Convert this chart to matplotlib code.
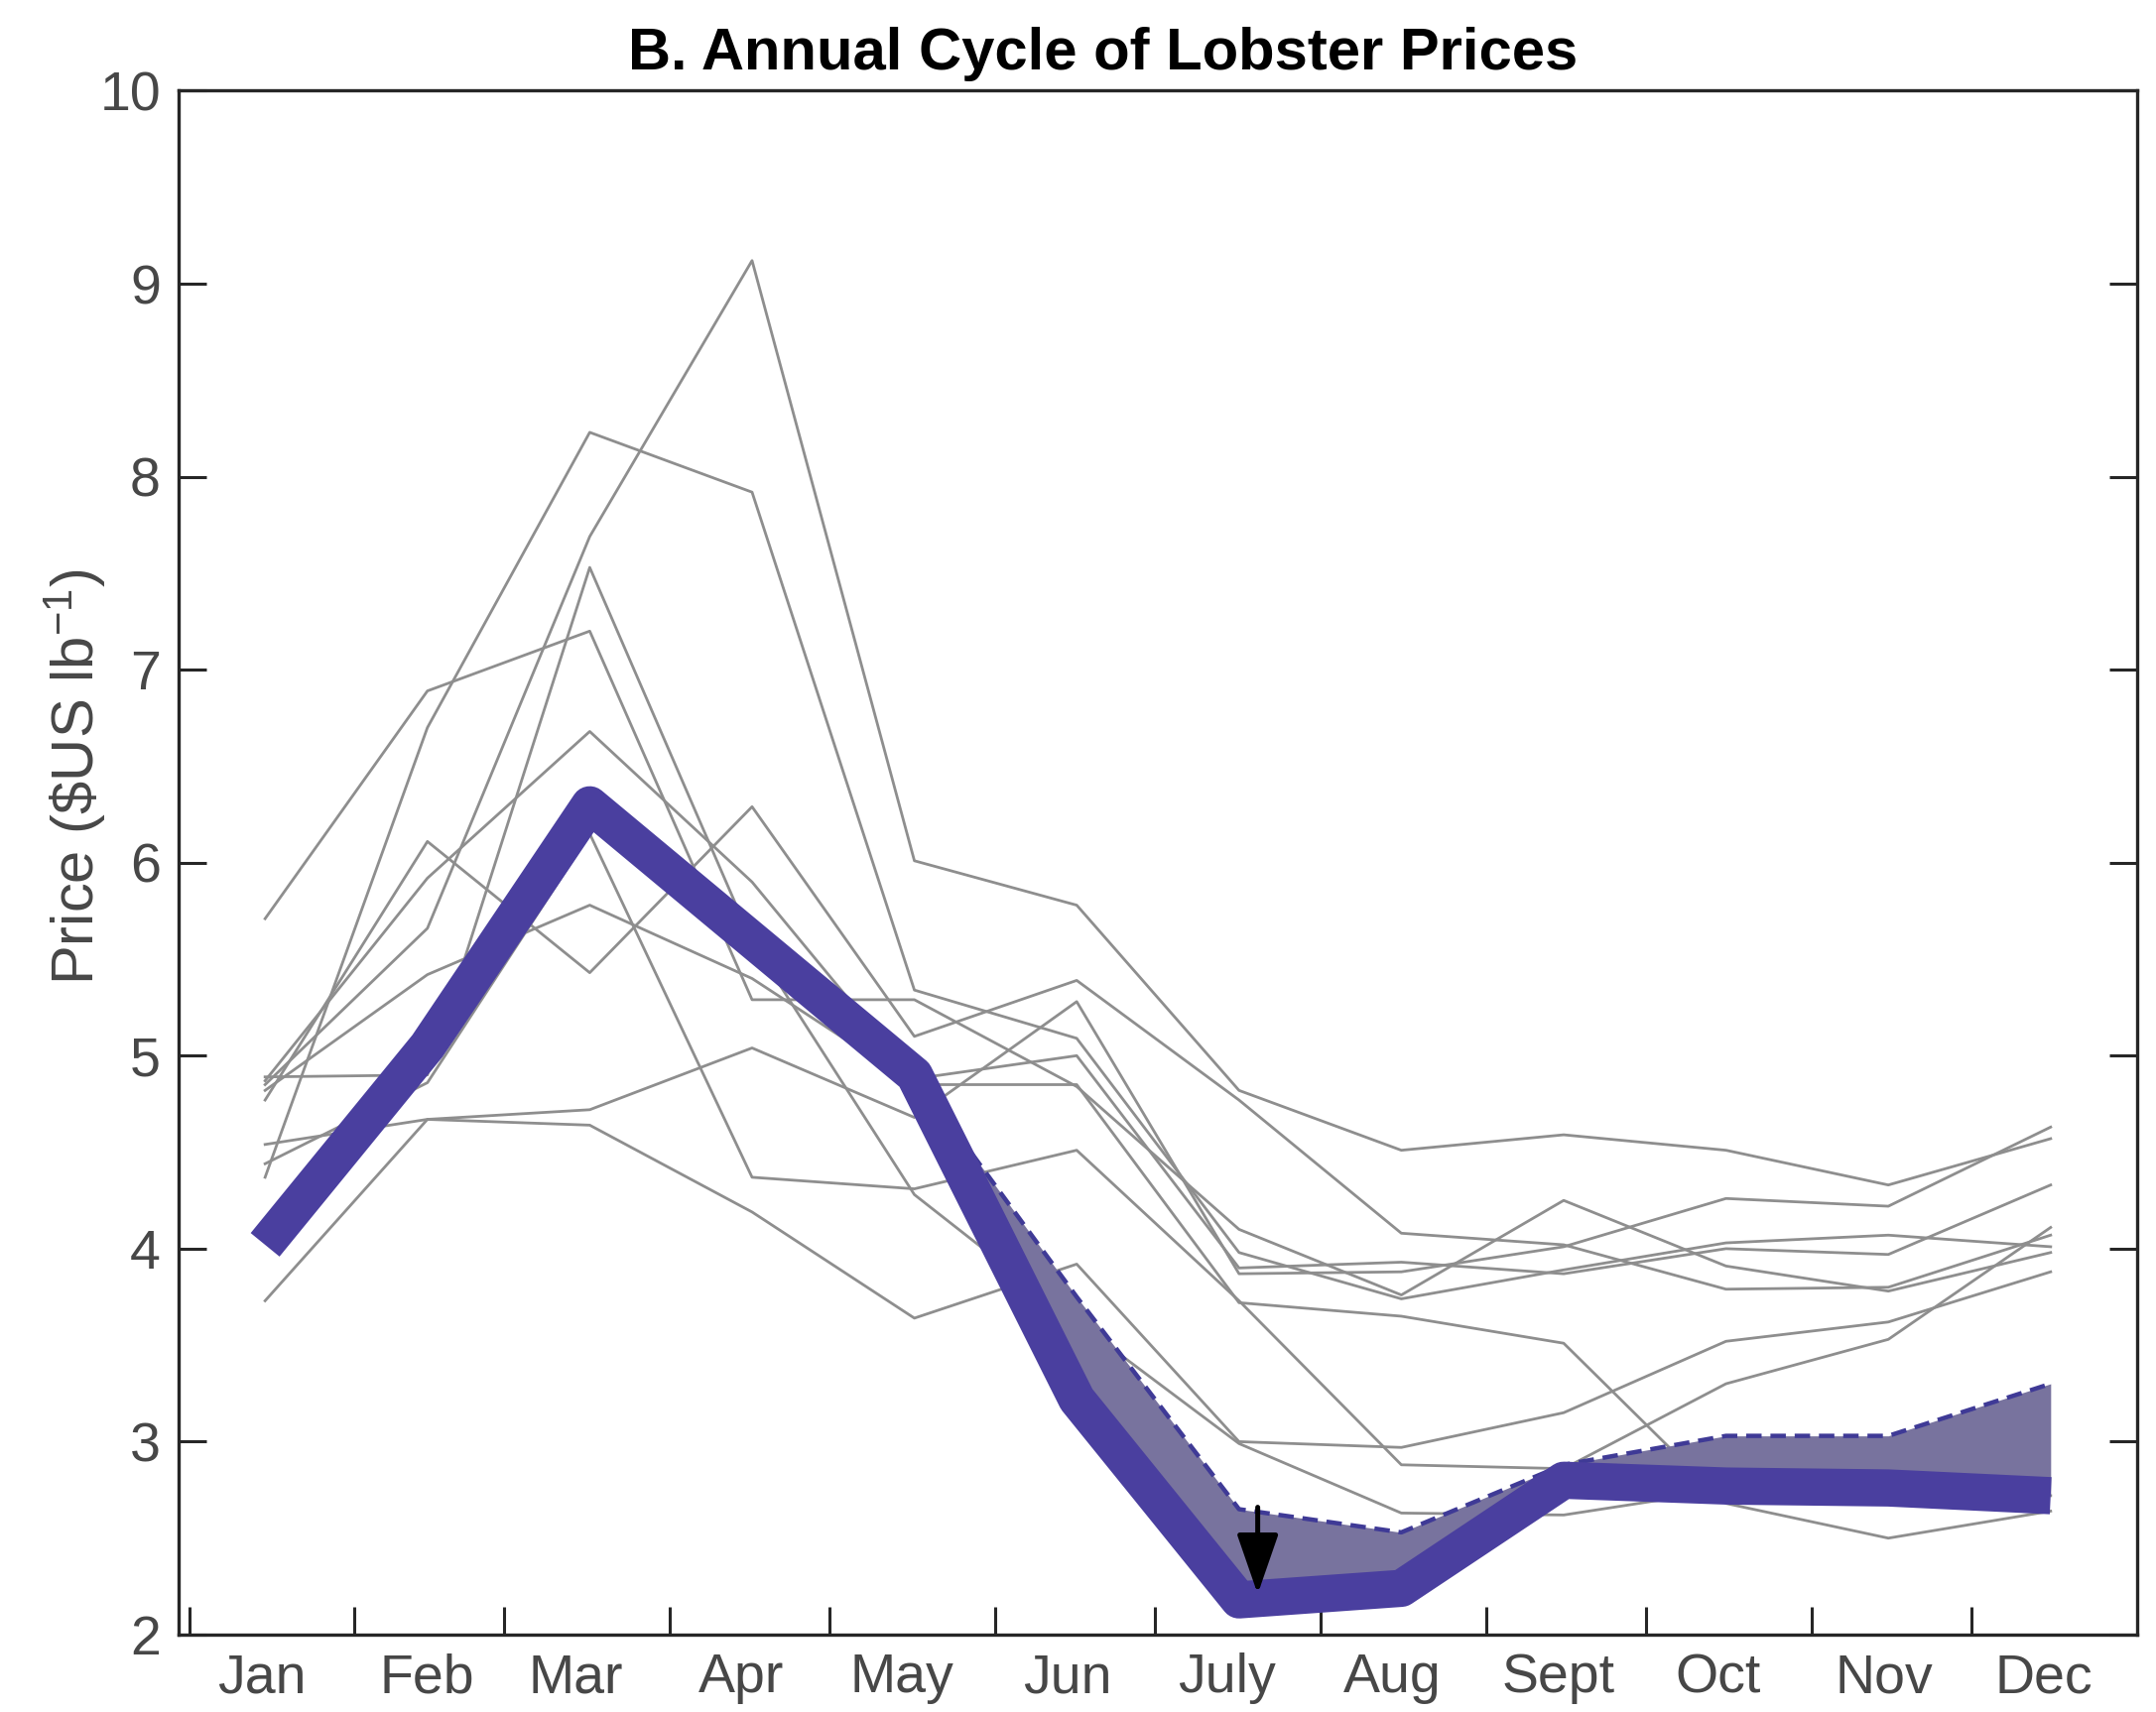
import numpy as np
import matplotlib
matplotlib.use("Agg")
import matplotlib.pyplot as plt

months = ["Jan", "Feb", "Mar", "Apr", "May", "Jun", "July", "Aug", "Sept", "Oct", "Nov", "Dec"]
month_days = [31, 28, 31, 30, 31, 30, 31, 31, 30, 31, 30, 31]

# individual years, $US per lb, Jan..Dec
year_01 = [4.85, 5.66, 7.69, 9.12, 6.01, 5.78, 4.82, 4.51, 4.59, 4.51, 4.33, 4.57]
year_02 = [5.71, 6.89, 7.20, 5.29, 5.29, 4.84, 4.10, 3.76, 4.25, 3.91, 3.78, 3.98]
year_03 = [4.37, 6.70, 8.23, 7.92, 5.34, 5.09, 3.98, 3.74, 3.89, 4.03, 4.07, 4.01]
year_04 = [4.77, 6.11, 5.43, 6.29, 5.10, 5.39, 4.77, 4.08, 4.02, 3.79, 3.80, 4.07]
year_05 = [4.54, 4.67, 4.72, 5.04, 4.68, 5.28, 3.87, 3.88, 4.01, 4.26, 4.22, 4.63]
year_06 = [3.73, 4.67, 4.64, 4.19, 3.64, 3.92, 3.00, 2.97, 3.15, 3.52, 3.62, 3.88]
year_07 = [4.89, 4.90, 7.53, 5.59, 4.28, 3.62, 2.99, 2.63, 2.62, 2.75, 2.76, 2.72]
year_08 = [4.87, 5.92, 6.68, 5.90, 4.88, 5.00, 3.90, 3.93, 3.87, 4.00, 3.97, 4.33]
year_09 = [4.82, 5.42, 5.78, 5.40, 4.85, 4.85, 3.72, 3.65, 3.51, 2.68, 2.50, 2.64]
year_10 = [4.44, 4.86, 6.15, 4.37, 4.31, 4.51, 3.73, 2.88, 2.86, 3.30, 3.53, 4.11]

# thick curve and the dashed upper curve (May..Dec)
mean_price = [4.02, 5.05, 6.30, 5.60, 4.90, 3.22, 2.18, 2.24, 2.80, 2.77, 2.76, 2.72]
upper_price = [4.90, 3.75, 2.65, 2.53, 2.88, 3.03, 3.03, 3.30]

purple = "#4a3f9f"
shade = "#78739e"
grey = "#8e8e8e"
txt = "#474747"

plt.rcParams["font.family"] = ["Liberation Sans", "DejaVu Sans"]
plt.rcParams["mathtext.default"] = "regular"

fig = plt.figure(figsize=(21.73, 17.26), dpi=100)
ax = fig.add_axes([180 / 2173, 1 - 1648 / 1726, 1974 / 2173, (1648 - 91.5) / 1726])

starts = np.cumsum([0] + month_days[:-1]) + 1
mid = (np.arange(12) + 0.5) * 365 / 12

for yr in [year_01, year_02, year_03, year_04, year_05,
           year_06, year_07, year_08, year_09, year_10]:
    ax.plot(mid, yr, color=grey, lw=2.0, zorder=2)

ax.fill_between(mid[4:], mean_price[4:], upper_price, color=shade, lw=0, zorder=3)
ax.plot(mid[4:], upper_price, color="#3f3a96", lw=3.2, ls=(0, (3.5, 2.0)), zorder=4)
ax.plot(mid, mean_price, color=purple, lw=27, solid_capstyle="butt",
        solid_joinstyle="round", zorder=5)

ax.annotate("", xy=(mid[6] + 3.5, 2.21), xytext=(mid[6] + 3.5, 2.66),
            arrowprops=dict(arrowstyle="-|>,head_length=1.3,head_width=0.45",
                            mutation_scale=28.8, lw=3.6, color="black",
                            shrinkA=0, shrinkB=0), zorder=6)

ax.set_xlim(-1, 366)
ax.set_ylim(2, 10)
ax.set_yticks(np.arange(2, 11))
ax.set_xticks(starts)
ax.set_xticklabels([])
ax.set_xticks(starts + 13.5, minor=True)
ax.set_xticklabels(months, minor=True)

ax.tick_params(axis="x", which="major", direction="in", length=20, width=2.2,
               color="#262626", top=False)
ax.tick_params(axis="x", which="minor", length=0, pad=13, labelsize=40, labelcolor=txt)
ax.tick_params(axis="y", direction="in", length=20, width=2.2, color="#262626",
               left=True, right=True, pad=13, labelsize=40, labelcolor=txt)

for sp in ax.spines.values():
    sp.set_color("#262626")
    sp.set_linewidth(2.4)

ax.set_ylabel("Price (\\$US lb$^{-1}$)", fontsize=43, color=txt)
ax.yaxis.set_label_coords(-0.036, 0.556)

ax.text(0.472, 1.006, "B. Annual Cycle of Lobster Prices", transform=ax.transAxes,
        ha="center", va="bottom", fontsize=43, fontweight="bold", color="black")

fig.savefig("out.png", dpi=100)
